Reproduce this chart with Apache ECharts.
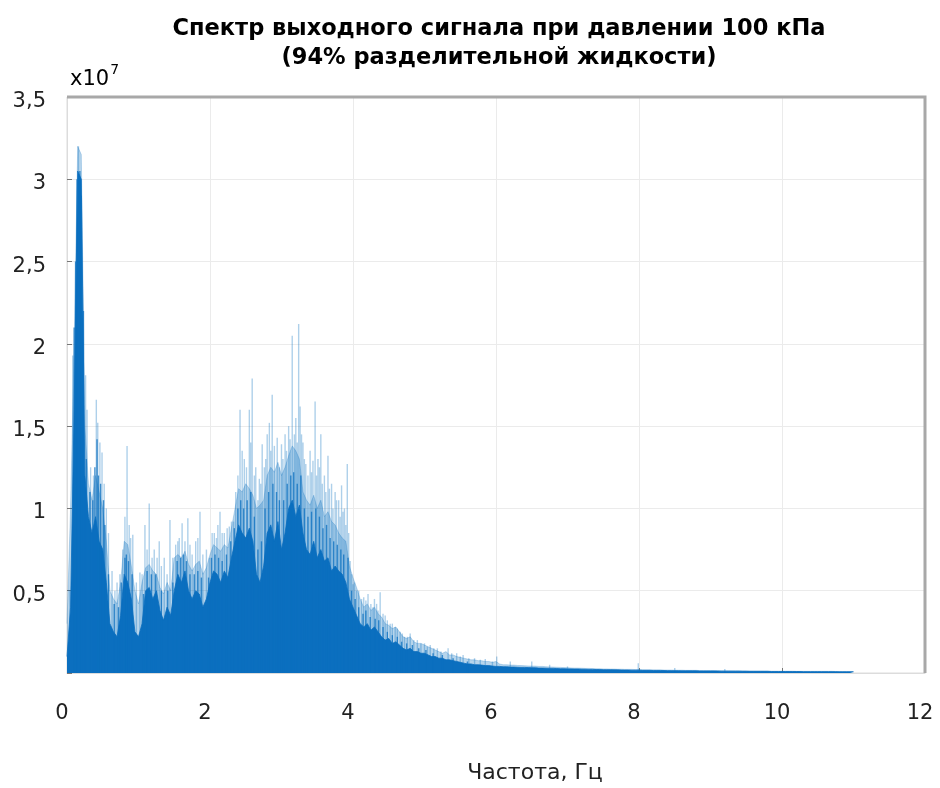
<!DOCTYPE html>
<html>
<head>
<meta charset="utf-8">
<script src="https://cdn.jsdelivr.net/npm/echarts@6/dist/echarts.min.js"></script>
<style>
html,body{margin:0;padding:0;background:#fff;}
#chart{width:940px;height:788px;}
</style>
</head>
<body>
<div id="chart"></div>
<script>
// Spectrum amplitudes in units of 1e7, frequency grid step 0.05 Hz starting at 0 Hz
const freqStep = 0.05;
const titleLines = ['Спектр выходного сигнала при давлении 100 кПа', '(94% разделительной жидкости)'];
const xAxisName = 'Частота, Гц';
const xTicks = [0, 2, 4, 6, 8, 10, 12];
const yTicks = [0.5, 1, 1.5, 2, 2.5, 3, 3.5];

// dense dark body of the spectrum
const bodyCore = [
  0.10, 0.40, 1.60, 3.05, 3.00, 1.20, 0.95, 0.85, 0.95, 0.80,
  0.75, 0.55, 0.30, 0.25, 0.22, 0.35, 0.60, 0.55, 0.45, 0.25,
  0.22, 0.30, 0.50, 0.52, 0.45, 0.50, 0.38, 0.32, 0.40, 0.35,
  0.50, 0.60, 0.55, 0.62, 0.50, 0.45, 0.50, 0.48, 0.40, 0.45,
  0.55, 0.62, 0.60, 0.55, 0.62, 0.58, 0.70, 0.80, 0.90, 0.85,
  0.82, 0.88, 0.80, 0.60, 0.55, 0.65, 0.85, 0.90, 0.80, 0.92,
  0.75, 0.85, 1.00, 1.05, 0.95, 1.02, 0.85, 0.75, 0.72, 0.80,
  0.70, 0.75, 0.68, 0.70, 0.62, 0.65, 0.62, 0.60, 0.55, 0.45,
  0.40, 0.35, 0.30, 0.28, 0.30, 0.26, 0.28, 0.25, 0.22, 0.20,
  0.21, 0.18, 0.19, 0.17, 0.15, 0.14, 0.15, 0.13, 0.13, 0.12,
  0.12, 0.11, 0.10, 0.10, 0.09, 0.09, 0.08, 0.08, 0.075, 0.07,
  0.065, 0.06, 0.055, 0.055, 0.05, 0.05, 0.048, 0.045, 0.045, 0.042,
  0.04,
  0.04, 0.038, 0.038, 0.036, 0.036, 0.035, 0.034, 0.034, 0.033, 0.032,
  0.032, 0.03, 0.03, 0.029, 0.028, 0.028, 0.027, 0.026, 0.026, 0.025,
  0.025, 0.024, 0.024, 0.023, 0.023, 0.022, 0.022, 0.021, 0.021, 0.02,
  0.02, 0.02, 0.019, 0.019, 0.018, 0.018, 0.018, 0.017, 0.017, 0.017,
  0.016, 0.016, 0.016, 0.015, 0.015, 0.015, 0.015, 0.014, 0.014, 0.014,
  0.014, 0.013, 0.013, 0.013, 0.013, 0.013, 0.012, 0.012, 0.012, 0.012,
  0.012, 0.012, 0.011, 0.011, 0.011, 0.011, 0.011, 0.011, 0.010, 0.010,
  0.010, 0.010, 0.010, 0.010, 0.010, 0.010, 0.009, 0.009, 0.009, 0.009,
  0.009, 0.009, 0.009, 0.009, 0.009, 0.008, 0.008, 0.008, 0.008, 0.008,
  0.008, 0.008, 0.008, 0.008, 0.008, 0.007, 0.007, 0.007, 0.007, 0.007
];

// lighter upper envelope of the spectrum
const bodyUpper = [
  0.30, 1.00, 2.00, 3.20, 3.15, 1.50, 1.15, 1.05, 1.20, 1.10,
  1.00, 0.80, 0.50, 0.45, 0.42, 0.55, 0.80, 0.78, 0.65, 0.50,
  0.42, 0.55, 0.64, 0.66, 0.62, 0.60, 0.52, 0.48, 0.55, 0.50,
  0.70, 0.72, 0.70, 0.74, 0.66, 0.62, 0.66, 0.68, 0.60, 0.64,
  0.72, 0.78, 0.76, 0.74, 0.78, 0.76, 0.88, 1.00, 1.12, 1.10,
  1.15, 1.12, 1.08, 1.00, 1.02, 1.05, 1.20, 1.25, 1.22, 1.28,
  1.20, 1.25, 1.32, 1.38, 1.35, 1.30, 1.10, 1.05, 1.02, 1.08,
  1.00, 1.05, 0.95, 0.98, 0.92, 0.90, 0.85, 0.82, 0.80, 0.65,
  0.58, 0.52, 0.45, 0.40, 0.42, 0.38, 0.40, 0.36, 0.34, 0.30,
  0.29, 0.27, 0.28, 0.25, 0.22, 0.21, 0.22, 0.19, 0.18, 0.18,
  0.17, 0.16, 0.15, 0.14, 0.13, 0.12, 0.13, 0.11, 0.11, 0.10,
  0.095, 0.09, 0.085, 0.08, 0.08, 0.075, 0.075, 0.07, 0.07, 0.065,
  0.07,
  0.055, 0.05, 0.05, 0.048, 0.048, 0.046, 0.045, 0.044, 0.043, 0.042,
  0.042, 0.04, 0.04, 0.038, 0.037, 0.036, 0.035, 0.034, 0.033, 0.032,
  0.031, 0.03, 0.03, 0.029, 0.028, 0.028, 0.027, 0.026, 0.026, 0.025,
  0.025, 0.024, 0.024, 0.023, 0.023, 0.022, 0.022, 0.022, 0.021, 0.021,
  0.02, 0.02, 0.02, 0.019, 0.019, 0.019, 0.018, 0.018, 0.018, 0.017,
  0.017, 0.017, 0.016, 0.016, 0.016, 0.016, 0.015, 0.015, 0.015, 0.015,
  0.015, 0.014, 0.014, 0.014, 0.014, 0.013, 0.013, 0.013, 0.013, 0.013,
  0.012, 0.012, 0.012, 0.012, 0.012, 0.012, 0.011, 0.011, 0.011, 0.011,
  0.011, 0.011, 0.011, 0.01, 0.01, 0.01, 0.01, 0.01, 0.01, 0.01,
  0.01, 0.01, 0.01, 0.01, 0.009, 0.009, 0.009, 0.009, 0.009, 0.009
];

// light thin spikes (frequency, amplitude)
const spikeFreq = [
  0.04, 0.08, 0.16, 0.26, 0.28, 0.33, 0.37, 0.41, 0.43, 0.46, 0.49, 0.52,
  0.55, 0.58, 0.63, 0.67, 0.70, 0.74, 0.78, 0.81, 0.84, 0.87, 0.89, 0.92,
  0.97, 1.02, 1.05, 1.09, 1.12, 1.15, 1.19, 1.22, 1.26, 1.29, 1.32, 1.36,
  1.40, 1.44, 1.48, 1.52, 1.55, 1.57, 1.61, 1.65, 1.69, 1.72, 1.75, 1.80,
  1.83, 1.86, 1.90, 1.95, 1.99, 2.03, 2.06, 2.09, 2.11, 2.14, 2.17, 2.20,
  2.24, 2.27, 2.30, 2.33, 2.36, 2.39, 2.42, 2.45, 2.48, 2.51, 2.55, 2.57,
  2.59, 2.62, 2.64, 2.67, 2.69, 2.71, 2.73, 2.76, 2.78, 2.80, 2.83, 2.85,
  2.87, 2.90, 2.94, 2.97, 3.00, 3.02, 3.05, 3.07, 3.10, 3.12, 3.15, 3.18,
  3.20, 3.22, 3.24, 3.26, 3.28, 3.30, 3.32, 3.34, 3.37, 3.40, 3.42, 3.44,
  3.47, 3.49, 3.51, 3.53, 3.55, 3.57, 3.60, 3.62, 3.65, 3.67, 3.70, 3.72,
  3.75, 3.77, 3.80, 3.82, 3.84, 3.86, 3.88, 3.90, 3.92, 3.94, 3.96, 3.98,
  4.00, 4.02, 4.05, 4.08, 4.12, 4.15, 4.18, 4.21, 4.25, 4.28, 4.30, 4.33,
  4.35, 4.38, 4.42, 4.45, 4.48, 4.52, 4.55, 4.59, 4.62, 4.66, 4.69, 4.72,
  4.76, 4.80, 4.85, 4.90, 4.95, 5.00, 5.04, 5.08, 5.13, 5.18, 5.23, 5.33,
  5.38, 5.45, 5.50, 5.54, 5.62, 5.70, 5.78, 5.85, 5.95, 6.01, 6.20, 6.50,
  6.75, 7.00, 7.99, 8.50, 9.20
];
const spikeAmp = [
  0.50, 1.93, 3.20, 1.81, 1.60, 1.25, 1.20, 1.66, 1.52, 1.40, 1.34, 1.15,
  1.00, 0.85, 0.62, 0.50, 0.55, 0.60, 0.75, 0.95, 1.38, 0.90, 0.82, 0.84,
  0.55, 0.61, 0.60, 0.90, 0.75, 1.03, 0.70, 0.75, 0.70, 0.80, 0.65, 0.70,
  0.60, 0.93, 0.70, 0.78, 0.80, 0.82, 0.91, 0.80, 0.94, 0.78, 0.72, 0.80,
  0.82, 0.98, 0.72, 0.75, 0.70, 0.85, 0.85, 0.82, 0.90, 0.98, 0.85, 0.85,
  0.88, 0.89, 0.92, 0.92, 1.10, 1.20, 1.60, 1.35, 1.30, 1.25, 1.60, 1.40,
  1.79, 1.20, 1.25, 1.05, 1.18, 1.15, 1.39, 1.25, 1.30, 1.45, 1.52, 1.35,
  1.69, 1.38, 1.43, 1.25, 1.39, 1.30, 1.45, 1.35, 1.50, 1.42, 2.05, 1.45,
  1.55, 1.40, 2.12, 1.62, 1.45, 1.40, 1.30, 1.27, 1.20, 1.35, 1.22, 1.29,
  1.65, 1.20, 1.30, 1.25, 1.45, 1.15, 1.20, 1.10, 1.32, 1.12, 1.15, 1.00,
  1.10, 1.05, 1.05, 0.95, 1.14, 0.98, 1.00, 0.90, 1.27, 0.85, 0.68, 0.60,
  0.54, 0.55, 0.50, 0.50, 0.45, 0.46, 0.44, 0.48, 0.42, 0.40, 0.45, 0.42,
  0.38, 0.49, 0.36, 0.35, 0.32, 0.30, 0.30, 0.28, 0.27, 0.25, 0.24, 0.22,
  0.22, 0.24, 0.20, 0.20, 0.18, 0.18, 0.16, 0.17, 0.15, 0.15, 0.13, 0.15,
  0.12, 0.12, 0.10, 0.11, 0.09, 0.09, 0.08, 0.085, 0.07, 0.10, 0.07, 0.07,
  0.05, 0.04, 0.06, 0.03, 0.025
];

// darker thin strokes rising above the dense body (frequency, amplitude)
const darkFreq = [
  0.10, 0.12, 0.14, 0.18, 0.20, 0.23, 0.27, 0.32, 0.36, 0.39, 0.42, 0.44,
  0.47, 0.51, 0.53, 0.58, 0.66, 0.72, 0.76, 0.81, 0.83, 0.86, 0.91, 1.07,
  1.12, 1.18, 1.24, 1.32, 1.41, 1.48, 1.54, 1.59, 1.63, 1.67, 1.72, 1.78,
  1.83, 1.88, 1.98, 2.02, 2.07, 2.12, 2.17, 2.23, 2.29, 2.34, 2.39, 2.43,
  2.47, 2.52, 2.57, 2.62, 2.67, 2.72, 2.77, 2.82, 2.88, 2.93, 2.97, 3.03,
  3.08, 3.13, 3.17, 3.22, 3.27, 3.32, 3.37, 3.42, 3.48, 3.53, 3.58, 3.63,
  3.68, 3.73, 3.78, 3.83, 3.87, 3.93, 3.98, 4.03, 4.08, 4.14, 4.18, 4.24,
  4.31, 4.36, 4.42, 4.48, 4.55, 4.62, 4.68, 4.75, 4.83, 4.92, 5.02, 5.12,
  5.25, 5.40, 5.60
];
const darkAmp = [
  2.10, 2.50, 3.00, 3.05, 2.90, 2.20, 1.30, 1.10, 1.05, 1.25, 1.42, 1.20,
  1.15, 1.05, 0.90, 0.60, 0.42, 0.40, 0.55, 0.70, 0.72, 0.68, 0.60, 0.48,
  0.62, 0.60, 0.60, 0.50, 0.50, 0.55, 0.68, 0.70, 0.72, 0.68, 0.60, 0.60,
  0.62, 0.58, 0.58, 0.70, 0.72, 0.70, 0.68, 0.72, 0.80, 0.88, 1.00, 1.05,
  1.00, 1.05, 1.10, 0.95, 0.75, 0.80, 1.00, 1.10, 1.15, 1.10, 1.05, 1.05,
  1.15, 1.20, 1.22, 1.15, 1.20, 1.00, 0.95, 0.98, 1.00, 0.95, 0.88, 0.90,
  0.82, 0.80, 0.78, 0.75, 0.72, 0.70, 0.50, 0.45, 0.40, 0.36, 0.38, 0.34,
  0.33, 0.32, 0.28, 0.25, 0.23, 0.22, 0.19, 0.18, 0.17, 0.15, 0.14, 0.12,
  0.11, 0.09, 0.07
];

const freqs = bodyCore.map((_, i) => Math.round(i * freqStep * 100) / 100);
const coreData = freqs.map((f, i) => [f, bodyCore[i]]);
const upperData = freqs.map((f, i) => [f, bodyUpper[i]]);
const spikeData = spikeFreq.map((f, i) => [f, spikeAmp[i]]);
const darkData = darkFreq.map((f, i) => [f, darkAmp[i]]);

const FONT = 'DejaVu Sans';
const X_MIN = 0, X_MAX = 12, Y_MIN = 0, Y_MAX = 3.5;
const chart = echarts.init(document.getElementById('chart'), null, {renderer: 'canvas'});
const fmtY = v => (yTicks.indexOf(v) >= 0 ? String(v).replace('.', ',') : '');

chart.setOption({
  animation: false,
  backgroundColor: '#ffffff',
  grid: {left: 67, right: 15, top: 97, bottom: 115, containLabel: false,
    show: true, borderColor: '#dcdcdc', borderWidth: 1, backgroundColor: 'transparent'},
  graphic: [
    {
      id: 'title', type: 'text', x: 499, y: 15,
      style: {
        text: titleLines.join('\n'), align: 'center', verticalAlign: 'top',
        fontFamily: FONT, fontWeight: 'bold', fontSize: 22.5, lineHeight: 29, fill: '#000'
      }
    },
    {
      id: 'mult', type: 'text', left: 70, top: 63,
      style: {
        text: '{a|x10}{b|7}',
        rich: {
          a: {fontFamily: FONT, fontSize: 21, color: '#222', verticalAlign: 'bottom', lineHeight: 27},
          b: {fontFamily: FONT, fontSize: 14, color: '#222', verticalAlign: 'top', lineHeight: 27, padding: [0, 0, 12, 1]}
        }
      }
    },
    {
      id: 'xname', type: 'text', x: 535, y: 773,
      style: {text: xAxisName, align: 'center', verticalAlign: 'middle', fontFamily: FONT, fontSize: 22, fill: '#222'}
    }
  ],
  xAxis: {
    type: 'value', min: X_MIN, max: X_MAX, interval: 2,
    axisLine: {show: true, onZero: false, lineStyle: {color: '#dcdcdc', width: 1}},
    axisTick: {show: true, inside: true, length: 5, lineStyle: {color: '#777'}},
    axisLabel: {fontFamily: FONT, fontSize: 21, color: '#222', margin: 30, padding: [0, 10, 0, 0],
      formatter: v => (xTicks.indexOf(v) >= 0 ? String(v) : '')},
    splitLine: {show: true, lineStyle: {color: '#ebebeb', width: 1}}
  },
  yAxis: {
    type: 'value', min: Y_MIN, max: Y_MAX, interval: 0.5,
    axisLine: {show: true, onZero: false, lineStyle: {color: '#dcdcdc', width: 1}},
    axisTick: {show: true, inside: true, length: 5, lineStyle: {color: '#777'}},
    axisLabel: {fontFamily: FONT, fontSize: 21, color: '#222', margin: 21,
      verticalAlign: 'top', lineHeight: 9, formatter: fmtY},
    splitLine: {show: true, lineStyle: {color: '#ebebeb', width: 1}}
  },
  series: [
    {
      name: 'spikes', type: 'bar', data: spikeData, barWidth: 1.4, barGap: '-100%',
      itemStyle: {color: 'rgba(10,112,192,0.33)'}, z: 2, silent: true
    },
    {
      name: 'upper', type: 'line', data: upperData, showSymbol: false, sampling: 'none',
      lineStyle: {color: 'rgba(10,112,192,0.4)', width: 0.6},
      areaStyle: {color: 'rgba(10,112,192,0.42)', origin: 'start'}, z: 3, silent: true
    },
    {
      name: 'core', type: 'line', data: coreData, showSymbol: false, sampling: 'none',
      lineStyle: {color: '#0b6fbf', width: 0.8},
      areaStyle: {color: '#0b6fbf', opacity: 1, origin: 'start'}, z: 4, silent: true
    },
    {
      name: 'darkStrokes', type: 'bar', data: darkData, barWidth: 1.4, barGap: '-100%',
      itemStyle: {color: 'rgba(11,111,191,0.75)'}, z: 5, silent: true
    }
  ]
});

// darker frame on the top and right sides, positioned from the axes
const px0 = chart.convertToPixel({xAxisIndex: 0}, X_MIN);
const px1 = chart.convertToPixel({xAxisIndex: 0}, X_MAX);
const py0 = chart.convertToPixel({yAxisIndex: 0}, Y_MIN);
const py1 = chart.convertToPixel({yAxisIndex: 0}, Y_MAX);
chart.setOption({
  graphic: [{
    id: 'frameTR', type: 'polyline', z: 100, silent: true,
    shape: {points: [[px0, py1], [px1, py1], [px1, py0]]},
    style: {stroke: '#a8a8a8', lineWidth: 3, fill: null}
  }]
});
</script>
</body>
</html>
